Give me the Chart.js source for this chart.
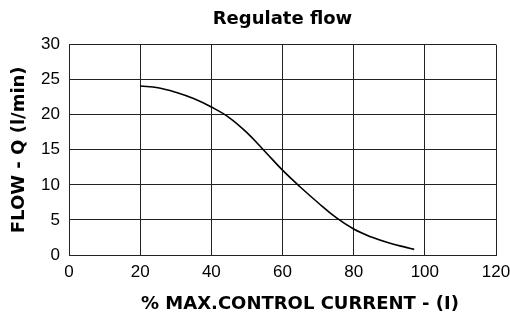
<!DOCTYPE html>
<html>
<head>
<meta charset="utf-8">
<script src="https://cdn.jsdelivr.net/npm/chart.js@4"></script>
<style>
  html, body { margin: 0; padding: 0; background: #fff; }
  #wrap { width: 510px; height: 321px; }
</style>
</head>
<body>
<div id="wrap"><canvas id="flowChart" width="510" height="321"></canvas></div>
<script>
// Control current (% of max) vs. regulated flow (l/min)
const currentPct = [20, 25, 30, 35, 40, 45, 50, 55, 60, 65, 70, 75, 80, 85, 90, 95, 97];
const flowLpm = [24.1, 23.85, 23.2, 22.3, 21.1, 19.6, 17.45, 14.8, 12.1, 9.7, 7.45, 5.35, 3.7, 2.55, 1.7, 1.05, 0.8];

const xTicks = [0, 20, 40, 60, 80, 100, 120];
const yTicks = [0, 5, 10, 15, 20, 25, 30];

const chartTitle = "Regulate flow";
const xTitle = "% MAX.CONTROL CURRENT - (I)";
const yTitle = "FLOW - Q (l/min)";

const FONT = "'DejaVu Sans', sans-serif";
const TICK_FONT = "'Liberation Sans', Arial, sans-serif";
const GRID = "#222";

// x axis title sits a bit right of the plot centre, so draw it by hand
const xTitlePlugin = {
  id: "xTitle",
  afterDraw(c) {
    const ctx = c.ctx;
    ctx.save();
    ctx.font = "bold 18px " + FONT;
    ctx.fillStyle = "#000";
    ctx.textAlign = "center";
    ctx.textBaseline = "middle";
    ctx.fillText(xTitle, 300, 304);
    ctx.restore();
  }
};

const chart = new Chart(document.getElementById("flowChart"), {
  type: "line",
  data: {
    datasets: [{
      data: currentPct.map((x, i) => ({ x: x, y: flowLpm[i] })),
      borderColor: "#000",
      borderWidth: 1.6,
      pointRadius: 0,
      fill: false,
      tension: 0.4
    }]
  },
  options: {
    responsive: false,
    animation: false,
    layout: { padding: { left: 0, right: 14, top: 0, bottom: 0 } },
    plugins: {
      legend: { display: false },
      tooltip: { enabled: false },
      title: {
        display: true,
        text: chartTitle,
        fullSize: false, // centre over the plot, not the canvas
        color: "#000",
        font: { family: FONT, size: 18, weight: "bold" },
        padding: { top: 9, bottom: 14 }
      }
    },
    scales: {
      x: {
        type: "linear",
        min: 0,
        max: 120,
        afterBuildTicks: s => { s.ticks = xTicks.map(v => ({ value: v })); },
        afterFit: s => {
          s.height = 66;
          // the "120" label may hang past the plot edge
          s.paddingLeft = 0;
          s.paddingRight = 0;
        },
        ticks: {
          color: "#000",
          padding: 7,
          maxRotation: 0,
          font: { family: TICK_FONT, size: 17 }
        },
        grid: { color: GRID, lineWidth: 1, drawTicks: false },
        border: { color: GRID, width: 1 }
      },
      y: {
        min: 0,
        max: 30,
        afterBuildTicks: s => { s.ticks = yTicks.map(v => ({ value: v })); },
        afterFit: s => { s.width = 69; },
        ticks: {
          color: "#000",
          padding: 9,
          font: { family: TICK_FONT, size: 17 }
        },
        grid: { color: GRID, lineWidth: 1, drawTicks: false },
        border: { color: GRID, width: 1 },
        title: {
          display: true,
          text: yTitle,
          color: "#000",
          font: { family: FONT, size: 18, weight: "bold" },
          padding: { top: 9, bottom: 0 }
        }
      }
    }
  },
  plugins: [xTitlePlugin]
});
</script>
</body>
</html>
